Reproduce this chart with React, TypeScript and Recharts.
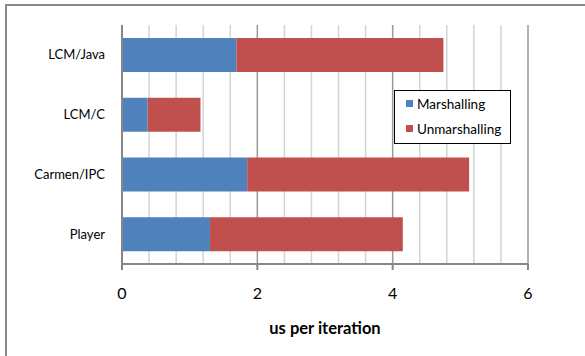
import React from "react";
import { BarChart, Bar, XAxis, YAxis, CartesianGrid, Label } from "recharts";

const categories = ["LCM/Java", "LCM/C", "Carmen/IPC", "Player"];
const marshalling = [1.69, 0.38, 1.85, 1.3];
const unmarshalling = [3.06, 0.78, 3.28, 2.85];
const xTicks = [0, 2, 4, 6];
const minorGrid = [0.4, 0.8, 1.2, 1.6, 2.4, 2.8, 3.2, 3.6, 4.4, 4.8, 5.2, 5.6];
const majorGrid = [2, 4, 6];
const seriesNames = ["Marshalling", "Unmarshalling"];
const seriesColors = ["#4F81BD", "#C0504D"];

const data = categories.map((name, i) => ({
  name,
  Marshalling: marshalling[i],
  Unmarshalling: unmarshalling[i],
}));

const FONT = "Lato, 'Open Sans', sans-serif";

const gen = (vals: number[]) => (props: any) => {
  const sc = props?.xAxis?.scale;
  if (typeof sc === "function") return vals.map((v) => sc(v));
  const w = props.offset?.width ?? props.width;
  const l = props.offset?.left ?? 0;
  return vals.map((v) => l + (v / 6) * w);
};

export default function App() {
  return (
    <div style={{ position: "absolute", left: 0, top: 0, width: 585, height: 356, background: "#fff", overflow: "hidden" }}>
      <div
        style={{
          position: "absolute",
          left: 5,
          top: 4,
          width: 700,
          height: 500,
          borderLeft: "2px solid #8a8a8a",
          borderTop: "2px solid #8a8a8a",
        }}
      />
      <div style={{ position: "absolute", left: 0, top: 0 }}>
        <BarChart
          width={585}
          height={356}
          data={data}
          layout="vertical"
          margin={{ top: 25, right: 57, left: 0, bottom: 12 }}
          barSize={34}
        >
          <CartesianGrid
            horizontal={false}
            stroke="#d4d4d4"
            strokeWidth={1.5}
            verticalCoordinatesGenerator={gen(minorGrid)}
          />
          <CartesianGrid
            horizontal={false}
            stroke="#999999"
            strokeWidth={1.5}
            verticalCoordinatesGenerator={gen(majorGrid)}
          />
          <XAxis
            type="number"
            domain={[0, 6]}
            ticks={xTicks}
            tickSize={6}
            tickMargin={18}
            height={80}
            stroke="#868686"
            strokeWidth={2}
            tick={{ fill: "#000", fontSize: 16, fontFamily: FONT }}
          >
            <Label
              value="us per iteration"
              position="insideBottom"
              offset={10}
              style={{ fontFamily: FONT, fontWeight: 700, fontSize: 16.5, fill: "#000" }}
            />
          </XAxis>
          <YAxis
            type="category"
            dataKey="name"
            width={122}
            tickLine={false}
            tickSize={0}
            tickMargin={17}
            stroke="#868686"
            strokeWidth={2}
            tick={{ fill: "#000", fontSize: 13, fontFamily: FONT }}
          />
          <Bar dataKey="Marshalling" stackId="a" fill={seriesColors[0]} isAnimationActive={false} />
          <Bar dataKey="Unmarshalling" stackId="a" fill={seriesColors[1]} isAnimationActive={false} />
        </BarChart>
      </div>
      <div
        style={{
          position: "absolute",
          left: 394,
          top: 90,
          border: "1.5px solid #000",
          background: "#fff",
          width: 117,
          height: 54,
          boxSizing: "border-box",
          fontFamily: FONT,
          fontSize: 13.5,
          color: "#000",
          paddingLeft: 11,
          paddingTop: 2,
        }}
      >
        {seriesNames.map((n, i) => (
          <div key={n} style={{ display: "flex", alignItems: "center", height: 21, marginBottom: 4 }}>
            <span style={{ display: "inline-block", width: 7, height: 7, background: seriesColors[i], marginRight: 4 }} />
            <span>{n}</span>
          </div>
        ))}
      </div>
    </div>
  );
}
